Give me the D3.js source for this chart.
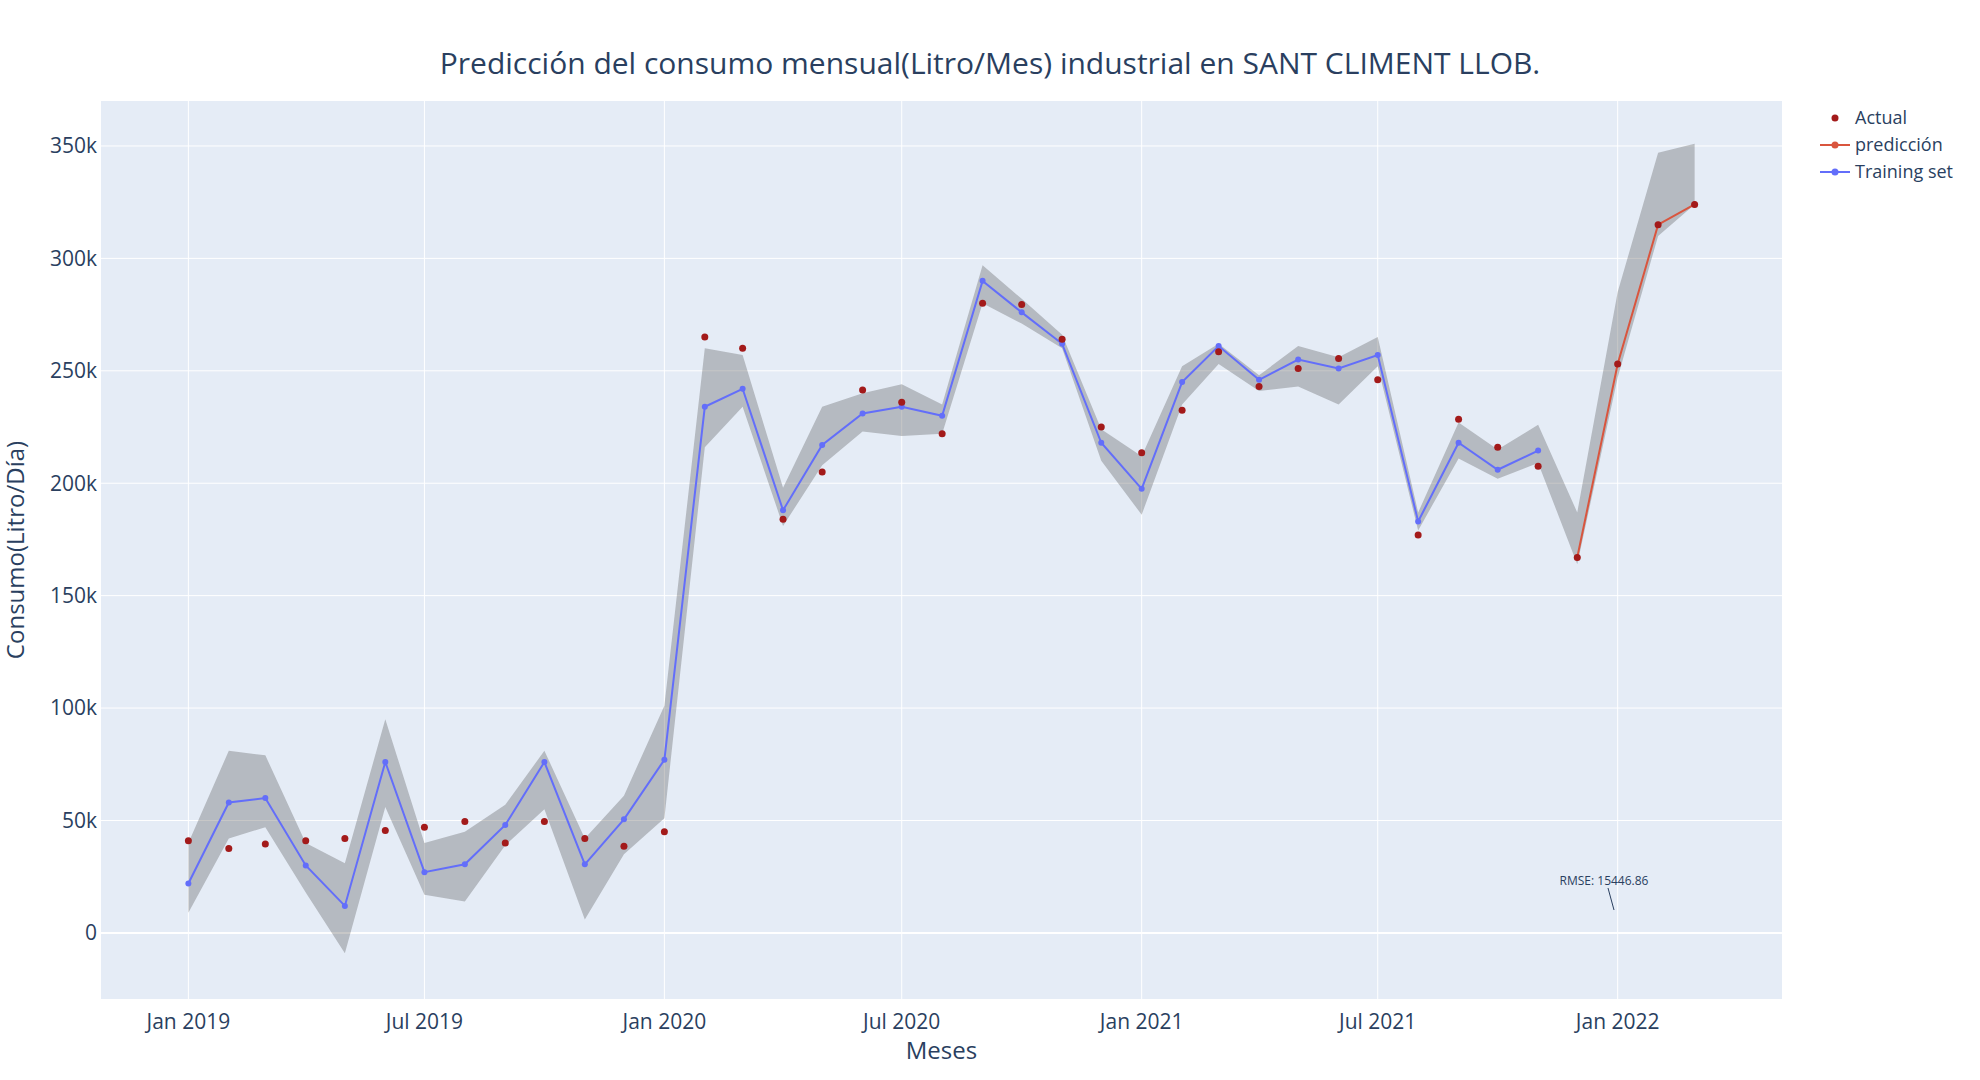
<!DOCTYPE html>
<html>
<head>
<meta charset="utf-8">
<script src="https://cdn.jsdelivr.net/npm/d3@7"></script>
<style>
  body { margin: 0; background: #fff; font-family: "Open Sans", "Noto Sans", sans-serif; }
  text { fill: #2a3f5f; }
</style>
</head>
<body>
<div id="chart"></div>
<script>
const trainMonths = d3.range(0, 35).map(i => new Date(2019, i, 1));
const trainValues = [22, 58, 60, 30, 12, 76, 27, 30.5, 48, 76, 30.5, 50.5,
  77, 234, 242, 188, 217, 231, 234, 230, 290, 276, 262, 218,
  197.5, 245, 261, 246, 255, 251, 257, 183, 218, 206, 214.5].map(v => v * 1000);

const predMonths = d3.range(35, 39).map(i => new Date(2019, i, 1));
const predValues = [167, 253, 315, 324].map(v => v * 1000);

const actualMonths = d3.range(0, 39).map(i => new Date(2019, i, 1));
const actualValues = [41, 37.5, 39.5, 41, 42, 45.5, 47, 49.5, 40, 49.5, 42, 38.5,
  45, 265, 260, 184, 205, 241.5, 236, 222, 280, 279.5, 264, 225,
  213.5, 232.5, 258.5, 243, 251, 255.5, 246, 177, 228.5, 216, 207.5,
  167, 253, 315, 324].map(v => v * 1000);

const bandUpper = [40, 81, 79, 40, 31, 95, 40, 45, 57, 81, 42, 61,
  101, 260, 257, 198, 234, 240, 244, 235, 297, 282, 266, 224,
  212, 252, 262, 248, 261, 256, 265, 187, 227, 215, 226,
  187, 285, 347, 351].map(v => v * 1000);
const bandLower = [9, 42, 47, 18, -9, 56, 17, 14, 39, 55, 6, 35,
  51, 216, 234, 181, 208, 223, 221, 222, 280, 271, 260, 210,
  186, 235, 253, 241, 243, 235, 252, 179, 211, 202, 209,
  164, 247, 310, 324].map(v => v * 1000);

const yTicks = [0, 50000, 100000, 150000, 200000, 250000, 300000, 350000];
const xTicks = [new Date(2019, 0, 1), new Date(2019, 6, 1), new Date(2020, 0, 1),
  new Date(2020, 6, 1), new Date(2021, 0, 1), new Date(2021, 6, 1), new Date(2022, 0, 1)];

const W = 1980, H = 1080;
const mLeft = 101, mRight = 1782, mTop = 101, mBottom = 999;

const svg = d3.select('#chart').append('svg').attr('width', W).attr('height', H);

const x = d3.scaleTime()
  .domain([new Date(2018, 9, 26), new Date(2022, 4, 7)])
  .range([mLeft, mRight]);
const y = d3.scaleLinear().domain([-29400, 370000]).range([mBottom, mTop]);

svg.append('rect').attr('x', mLeft).attr('y', mTop)
  .attr('width', mRight - mLeft).attr('height', mBottom - mTop).attr('fill', '#e5ecf6');

// grid
svg.append('g').selectAll('line').data(yTicks).enter().append('line')
  .attr('x1', mLeft).attr('x2', mRight)
  .attr('y1', d => y(d)).attr('y2', d => y(d))
  .attr('stroke', '#fff').attr('stroke-width', d => d === 0 ? 2 : 1);
svg.append('g').selectAll('line').data(xTicks).enter().append('line')
  .attr('y1', mTop).attr('y2', mBottom)
  .attr('x1', d => x(d)).attr('x2', d => x(d))
  .attr('stroke', '#fff');

// band
const bandData = actualMonths.map((d, i) => ({ d, lo: bandLower[i], hi: bandUpper[i] }));
svg.append('path').datum(bandData)
  .attr('d', d3.area().x(p => x(p.d)).y0(p => y(p.lo)).y1(p => y(p.hi)))
  .attr('fill', 'rgba(68,68,68,0.3)');

// training
const train = trainMonths.map((d, i) => [d, trainValues[i]]);
svg.append('path').datum(train)
  .attr('d', d3.line().x(p => x(p[0])).y(p => y(p[1])))
  .attr('fill', 'none').attr('stroke', '#636efa').attr('stroke-width', 2);
svg.append('g').selectAll('circle').data(train).enter().append('circle')
  .attr('cx', p => x(p[0])).attr('cy', p => y(p[1])).attr('r', 3).attr('fill', '#636efa');

// prediction
const pred = predMonths.map((d, i) => [d, predValues[i]]);
svg.append('path').datum(pred)
  .attr('d', d3.line().x(p => x(p[0])).y(p => y(p[1])))
  .attr('fill', 'none').attr('stroke', '#d9553e').attr('stroke-width', 2);
svg.append('g').selectAll('circle').data(pred).enter().append('circle')
  .attr('cx', p => x(p[0])).attr('cy', p => y(p[1])).attr('r', 3).attr('fill', '#d9553e');

// actual
const actual = actualMonths.map((d, i) => [d, actualValues[i]]);
svg.append('g').selectAll('circle').data(actual).enter().append('circle')
  .attr('cx', p => x(p[0])).attr('cy', p => y(p[1])).attr('r', 3.5).attr('fill', '#a31a1a');

// axes
const fmtK = d => d === 0 ? '0' : (d / 1000) + 'k';
svg.append('g').selectAll('text').data(yTicks).enter().append('text')
  .attr('x', mLeft - 4).attr('y', d => y(d)).attr('dy', '0.35em')
  .attr('text-anchor', 'end').attr('font-size', 21).text(fmtK);
svg.append('g').selectAll('text').data(xTicks).enter().append('text')
  .attr('x', d => x(d)).attr('y', mBottom + 23).attr('dy', '0.35em')
  .attr('text-anchor', 'middle').attr('font-size', 21).text(d3.timeFormat('%b %Y'));

svg.append('text').attr('x', (mLeft + mRight) / 2).attr('y', 1059)
  .attr('text-anchor', 'middle').attr('font-size', 24).text('Meses');
svg.append('text').attr('transform', `translate(24,${(mTop + mBottom) / 2}) rotate(-90)`)
  .attr('text-anchor', 'middle').attr('font-size', 24).text('Consumo(Litro/Día)');

svg.append('text').attr('x', 990).attr('y', 74)
  .attr('text-anchor', 'middle').attr('font-size', 30)
  .text('Predicción del consumo mensual(Litro/Mes) industrial en SANT CLIMENT LLOB.');

// annotation
svg.append('line').attr('x1', 1608).attr('y1', 888).attr('x2', 1614).attr('y2', 910)
  .attr('stroke', '#2a3f5f').attr('stroke-width', 1);
svg.append('text').attr('x', 1604).attr('y', 885).attr('text-anchor', 'middle')
  .attr('font-size', 12).text('RMSE: 15446.86');

// legend
const legend = [
  { name: 'Actual', color: '#a31a1a', line: false },
  { name: 'predicción', color: '#d9553e', line: true },
  { name: 'Training set', color: '#636efa', line: true }
];
const lg = svg.append('g').attr('transform', 'translate(1820,118)');
legend.forEach((l, i) => {
  const g = lg.append('g').attr('transform', `translate(0,${i * 27})`);
  if (l.line) g.append('line').attr('x1', 0).attr('x2', 30).attr('stroke', l.color).attr('stroke-width', 2);
  g.append('circle').attr('cx', 15).attr('r', 3.5).attr('fill', l.color);
  g.append('text').attr('x', 35).attr('dy', '0.35em').attr('font-size', 18).text(l.name);
});
</script>
</body>
</html>
